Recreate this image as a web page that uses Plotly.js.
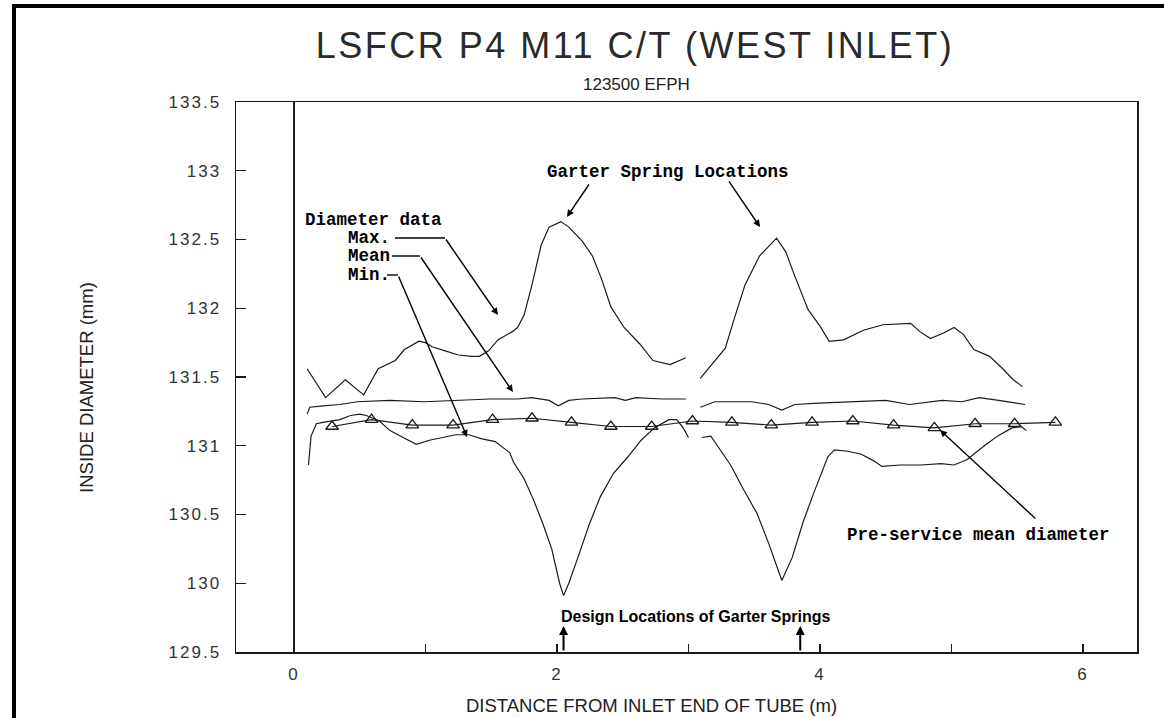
<!DOCTYPE html>
<html>
<head>
<meta charset="utf-8">
<script src="https://cdn.plot.ly/plotly-3.0.1.min.js"></script>
<style>
  html, body { margin: 0; padding: 0; background: #fff; }
  #chart { width: 1164px; height: 718px; }
  .xtick text, .ytick text { letter-spacing: 2px; }
  .gtitle { letter-spacing: 2.5px; }
  .annotation-text.sans-spaced { letter-spacing: 1px; }
</style>
</head>
<body>
<div id="chart"></div>
<script>
// ---- Data ----
// Distance from inlet end of tube (m) / inside diameter (mm); null = gap in record
const maxX = [0.10,0.24,0.39,0.53,0.64,0.77,0.84,0.95,1.00,1.05,1.15,1.25,1.35,1.41,1.48,1.55,1.66,1.70,1.75,1.81,1.88,1.94,2.03,2.09,2.19,2.27,2.34,2.41,2.51,2.63,2.73,2.86,2.98,null,3.09,3.19,3.28,3.35,3.43,3.54,3.67,3.74,3.81,3.91,4.00,4.07,4.18,4.33,4.48,4.69,4.76,4.84,4.94,5.02,5.09,5.17,5.29,5.39,5.47,5.54];
const maxY = [131.56,131.35,131.48,131.37,131.56,131.62,131.70,131.76,131.75,131.72,131.69,131.66,131.65,131.65,131.69,131.77,131.83,131.86,131.95,132.17,132.46,132.59,132.63,132.59,132.49,132.38,132.21,132.01,131.86,131.74,131.62,131.59,131.64,null,131.49,131.61,131.71,131.93,132.17,132.38,132.51,132.41,132.23,131.99,131.87,131.76,131.77,131.84,131.88,131.89,131.83,131.78,131.82,131.86,131.81,131.70,131.65,131.56,131.48,131.43];

const meanX = [0.10,0.12,0.22,0.35,0.48,0.73,0.99,1.24,1.49,1.70,1.81,1.94,2.01,2.09,2.19,2.44,2.52,2.60,2.80,2.98,null,3.09,3.20,3.48,3.61,3.71,3.81,3.99,4.24,4.50,4.68,4.83,4.93,5.08,5.21,5.36,5.56];
const meanY = [131.23,131.28,131.29,131.30,131.32,131.33,131.32,131.33,131.34,131.34,131.35,131.33,131.29,131.33,131.34,131.35,131.33,131.35,131.34,131.34,null,131.28,131.32,131.32,131.30,131.26,131.30,131.31,131.32,131.33,131.30,131.32,131.33,131.32,131.35,131.33,131.30];

const minX = [0.11,0.13,0.17,0.22,0.35,0.43,0.50,0.55,0.65,0.73,0.83,0.93,1.03,1.13,1.23,1.33,1.43,1.53,1.64,1.67,1.75,1.82,1.89,1.96,2.02,2.05,2.09,2.16,2.25,2.33,2.43,2.54,2.64,2.74,2.85,2.91,2.96,3.00,null,3.10,3.17,3.22,3.32,3.42,3.52,3.61,3.71,3.79,3.87,3.95,4.06,4.11,4.21,4.31,4.41,4.47,4.61,4.77,4.92,5.02,5.12,5.25,5.35,5.46,5.53,5.57];
const minY = [130.86,131.07,131.16,131.17,131.19,131.22,131.23,131.22,131.18,131.11,131.06,131.01,131.04,131.06,131.08,131.08,131.05,131.03,130.95,130.88,130.76,130.61,130.44,130.25,130.00,129.91,130.00,130.19,130.44,130.63,130.80,130.92,131.04,131.13,131.19,131.19,131.13,131.06,null,131.06,131.07,131.00,130.86,130.68,130.51,130.29,130.02,130.19,130.44,130.65,130.92,130.97,130.96,130.94,130.89,130.85,130.86,130.86,130.87,130.86,130.90,131.00,131.07,131.13,131.14,131.11];

const preX = [0.29,0.59,0.90,1.21,1.51,1.81,2.11,2.41,2.72,3.03,3.33,3.63,3.94,4.25,4.56,4.87,5.18,5.48,5.79];
const preY = [131.14,131.19,131.15,131.15,131.19,131.20,131.17,131.14,131.14,131.18,131.17,131.15,131.17,131.18,131.15,131.13,131.16,131.16,131.17];

const designX = [2.05, 3.85];   // design locations of garter springs (m)

const xTickVals = [0,1,2,3,4,5,6];
const xTickText = ['0','','2','','4','','6'];
const yTickVals = [129.5,130,130.5,131,131.5,132,132.5,133,133.5];
const yTickText = ['129.5','130','130.5','131','131.5','132','132.5','133','133.5'];

const titleText = 'LSFCR P4 M11 C/T (WEST INLET)';
const subtitleText = '123500 EFPH';
const xTitleText = 'DISTANCE FROM INLET END OF TUBE (m)';
const yTitleText = 'INSIDE DIAMETER (mm)';

// ---- Styling ----
const INK = '#1a1a1a';
const SANS = 'Liberation Sans, Arial, sans-serif';
const MONO = 'Liberation Mono, Courier New, monospace';
const lineStyle = {color: INK, width: 1.2};

const traces = [
  {x: maxX, y: maxY, mode: 'lines', name: 'Max.', line: lineStyle, connectgaps: false},
  {x: meanX, y: meanY, mode: 'lines', name: 'Mean', line: lineStyle, connectgaps: false},
  {x: minX, y: minY, mode: 'lines', name: 'Min.', line: lineStyle, connectgaps: false},
  {x: preX, y: preY, mode: 'lines+markers', name: 'Pre-service mean diameter',
   line: lineStyle, marker: {symbol: 'triangle-up-open', size: 11, color: INK, line: {width: 1.3, color: INK}}}
];

const monoFont = {family: MONO, size: 17.5, color: '#000', weight: 'bold'};

function arrow(x, y, ax, ay, opts) {
  return Object.assign({x: x, y: y, ax: ax, ay: ay, xref: 'x', yref: 'y', axref: 'x', ayref: 'y',
    text: '', showarrow: true, arrowhead: 2, arrowsize: 1, arrowwidth: 1.4, arrowcolor: '#000'}, opts || {});
}
function label(text, x, y, font, xanchor) {
  return {x: x, y: y, xref: 'x', yref: 'y', text: text, showarrow: false, font: font,
    xanchor: xanchor || 'center', yanchor: 'middle'};
}

const annotations = [
  {text: subtitleText, xref: 'paper', yref: 'paper', x: 0.444, y: 1.031, showarrow: false,
   font: {family: SANS, size: 17, color: '#222'}, xanchor: 'center', yanchor: 'middle'},
  {text: xTitleText, xref: 'paper', yref: 'paper', x: 0.4617, y: -0.098, showarrow: false,
   font: {family: SANS, size: 18.5, color: '#222'}, xanchor: 'center', yanchor: 'middle'},
  {text: yTitleText, xref: 'paper', yref: 'paper', x: -0.166, y: 0.481, showarrow: false, textangle: -90,
   font: {family: SANS, size: 18.5, color: '#222'}, xanchor: 'center', yanchor: 'middle'},

  label('Diameter data', 0.068, 132.642, monoFont, 'left'),
  label('Max.', 0.395, 132.511, monoFont, 'left'),
  label('Mean', 0.395, 132.380, monoFont, 'left'),
  label('Min.', 0.395, 132.242, monoFont, 'left'),
  arrow(1.551, 131.951, 1.148, 132.511),
  arrow(1.665, 131.391, 0.958, 132.380),
  arrow(1.316, 131.064, 0.791, 132.242),

  label('Garter Spring Locations', 2.844, 132.991, monoFont, 'center'),
  arrow(2.076, 132.664, 2.251, 132.911),
  arrow(3.544, 132.591, 3.300, 132.933),

  label('Pre-service mean diameter', 5.205, 130.351, monoFont, 'center'),
  arrow(4.913, 131.115, 5.650, 130.460),

  label('Design Locations of Garter Springs', 3.057, 129.755,
        {family: SANS, size: 16, color: '#000', weight: 'bold'}, 'center')
];
designX.forEach(function (d) {
  annotations.push(arrow(d, 129.69, d, 129.5, {arrowwidth: 2, arrowsize: 0.9}));
});

const shapes = [
  // leader lines from labels
  {type: 'line', xref: 'x', yref: 'y', x0: 0.768, x1: 1.148, y0: 132.511, y1: 132.511, line: {color: '#000', width: 1.4}},
  {type: 'line', xref: 'x', yref: 'y', x0: 0.745, x1: 0.958, y0: 132.380, y1: 132.380, line: {color: '#000', width: 1.4}},
  {type: 'line', xref: 'x', yref: 'y', x0: 0.707, x1: 0.791, y0: 132.242, y1: 132.242, line: {color: '#000', width: 1.4}},
  // scanned page frame
  {type: 'line', xref: 'paper', yref: 'paper', x0: -0.2464, x1: -0.2464, y0: -0.13, y1: 1.178, line: {color: '#000', width: 4}},
  {type: 'line', xref: 'paper', yref: 'paper', x0: -0.2475, x1: 1.03, y0: 1.1745, y1: 1.1745, line: {color: '#000', width: 4}}
];

const layout = {
  width: 1164, height: 718,
  margin: {l: 236, r: 27, t: 102, b: 66},
  paper_bgcolor: '#fff', plot_bgcolor: '#fff',
  showlegend: false,
  title: {text: titleText, x: 0.5455, xanchor: 'center', y: 0.937, yanchor: 'middle',
          font: {family: SANS, size: 36, color: '#2a2a2a'}},
  xaxis: {
    range: [-0.441, 6.411], tickmode: 'array', tickvals: xTickVals, ticktext: xTickText,
    ticks: 'inside', ticklen: 8, tickwidth: 1.2, tickcolor: INK,
    showline: true, linecolor: INK, linewidth: 1.5, mirror: true,
    showgrid: false, zeroline: true, zerolinecolor: INK, zerolinewidth: 1.3,
    tickfont: {family: SANS, size: 17, color: '#333'}, ticklabelstandoff: 6
  },
  yaxis: {
    range: [129.5, 133.5], tickmode: 'array', tickvals: yTickVals, ticktext: yTickText,
    ticks: 'inside', ticklen: 10, tickwidth: 1.2, tickcolor: INK,
    showline: true, linecolor: INK, linewidth: 1.5, mirror: true,
    showgrid: false, zeroline: false,
    tickfont: {family: SANS, size: 17, color: '#333'}, ticklabelstandoff: 10
  },
  annotations: annotations,
  shapes: shapes
};

Plotly.newPlot('chart', traces, layout, {staticPlot: true, displayModeBar: false});
</script>
</body>
</html>
